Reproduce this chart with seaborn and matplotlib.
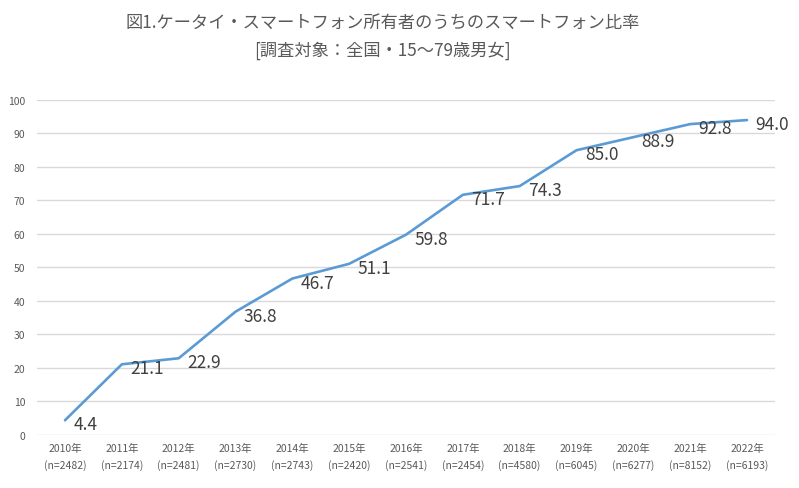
import matplotlib
matplotlib.use("Agg")
import matplotlib.pyplot as plt
import seaborn as sns
import numpy as np
import pandas as pd

years = ["2010年", "2011年", "2012年", "2013年", "2014年", "2015年", "2016年",
         "2017年", "2018年", "2019年", "2020年", "2021年", "2022年"]
samples = ["(n=2482)", "(n=2174)", "(n=2481)", "(n=2730)", "(n=2743)", "(n=2420)", "(n=2541)",
           "(n=2454)", "(n=4580)", "(n=6045)", "(n=6277)", "(n=8152)", "(n=6193)"]
values = [4.4, 21.1, 22.9, 36.8, 46.7, 51.1, 59.8, 71.7, 74.3, 85.0, 88.9, 92.8, 94.0]
yticks = [0, 10, 20, 30, 40, 50, 60, 70, 80, 90, 100]

sns.set_theme(style="white")
plt.rcParams['font.family'] = ['Noto Sans CJK JP', 'DejaVu Sans']

df = pd.DataFrame({"pos": np.arange(len(years)), "value": values})

fig = plt.figure(figsize=(7.99, 4.89), dpi=100)
ax = fig.add_axes([0.0458, 0.1084, 0.9247, 0.6851])

ax.set_axisbelow(True)
for t in yticks:
    ax.axhline(t, color="#D9D9D9", lw=1.0, zorder=0)

sns.lineplot(data=df, x="pos", y="value", ax=ax, color="#5B9BD5", linewidth=1.9)

for i, v in enumerate(values):
    ax.annotate(f"{v:.1f}", (i, v), xytext=(6, -3), textcoords="offset points",
                ha="left", va="center", fontsize=12.5, color="#404040")

ax.set_xlim(-0.5, len(years) - 0.5)
ax.set_ylim(0, 100)
ax.set_yticks(yticks)
ax.set_yticklabels([str(t) for t in yticks], fontsize=7.5, color="#595959")
ax.set_xticks(np.arange(len(years)))
ax.set_xticklabels([f"{y}\n{n}" for y, n in zip(years, samples)], fontsize=7.5,
                   color="#595959", linespacing=1.6)
ax.tick_params(axis="y", length=0, pad=8)
ax.tick_params(axis="x", length=0, pad=6)
ax.set_xlabel("")
ax.set_ylabel("")
for s in ax.spines.values():
    s.set_visible(False)

fig.text(383 / 799, 1 - 23 / 489, "図1.ケータイ・スマートフォン所有者のうちのスマートフォン比率",
         ha="center", va="center", fontsize=12.4, color="#595959")
fig.text(382 / 799, 1 - 51 / 489, "[調査対象：全国・15～79歳男女]",
         ha="center", va="center", fontsize=12.4, color="#595959")

fig.savefig("out.png", dpi=100, facecolor="white")
